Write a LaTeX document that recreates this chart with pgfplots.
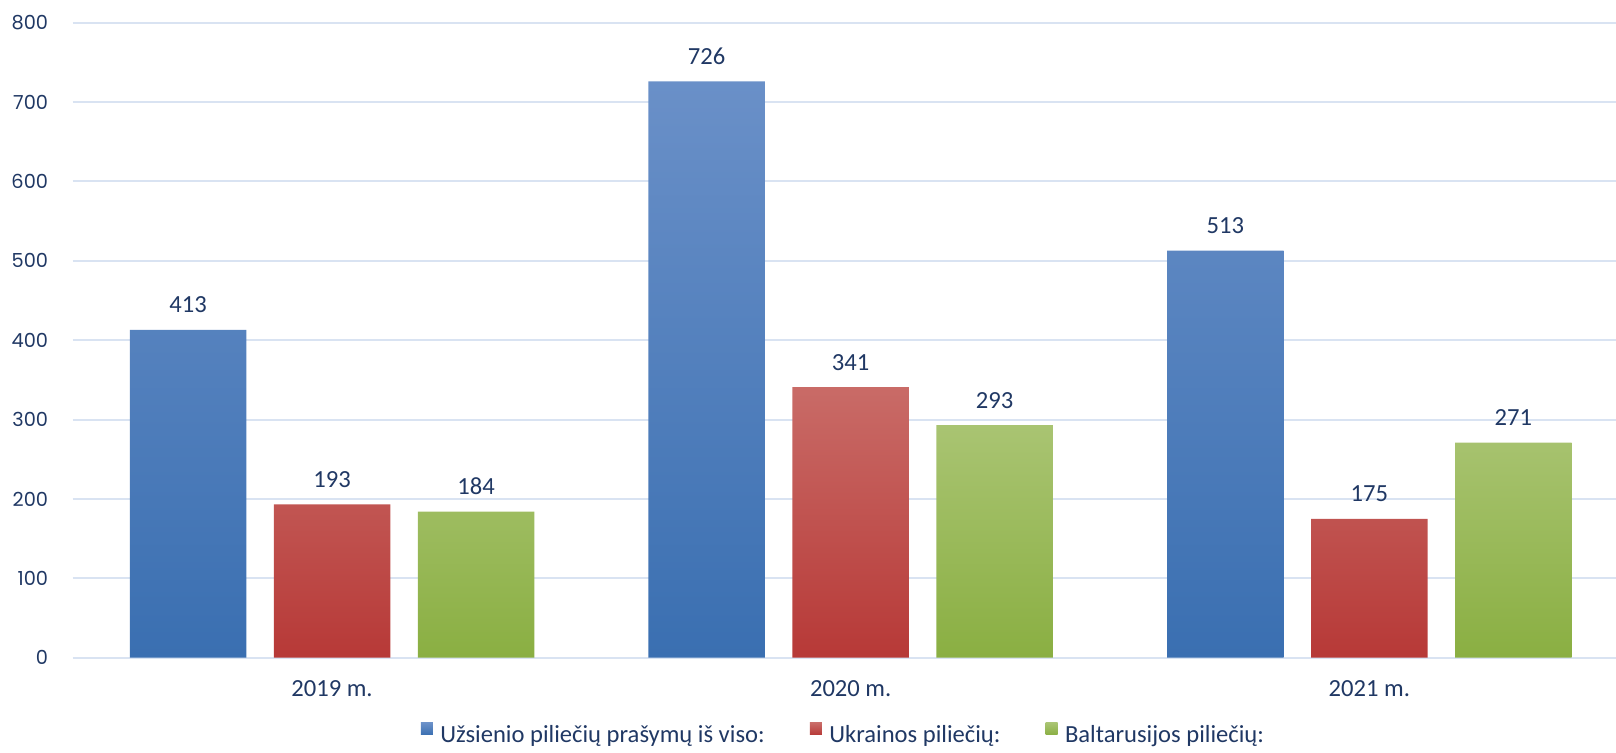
\documentclass[border=0pt]{standalone}
\usepackage{pgfplots}
\pgfplotsset{compat=1.18}
\usepackage{fontspec}
\setmainfont{Carlito}
\newfontfamily\tickfont{Poppins}
\definecolor{txt}{HTML}{203864}
\definecolor{gridc}{HTML}{D9E3F2}
\definecolor{blueT}{HTML}{6A90C8}
\definecolor{blueB}{HTML}{3A6FB1}
\definecolor{redT}{HTML}{C96B67}
\definecolor{redB}{HTML}{B73937}
\definecolor{greenT}{HTML}{A9C472}
\definecolor{greenB}{HTML}{8AAF42}
\begin{document}
\begin{tikzpicture}
\useasboundingbox (-14.54mm,-18.9mm) rectangle (308.66mm,131.54mm);
\clip (-14.54mm,-18.9mm) rectangle (308.66mm,131.54mm);
\begin{axis}[
    width=308.6mm, height=127mm, scale only axis,
    ymin=0, ymax=800, ytick={0,100,...,800},
    xmin=-0.5, xmax=2.475,
    xtick={0,1,2}, xticklabels={2019 m., 2020 m., 2021 m.},
    ymajorgrids, grid style={gridc, line width=1.1pt},
    axis line style={draw=none}, major tick length=0pt,
    ybar=5.5mm, bar width=23.3mm,
    /pgf/number format/assume math mode=true,
    yticklabel style={font=\tickfont\fontsize{11}{11}\selectfont, text=txt, anchor=east, inner sep=0pt, xshift=-4.86mm},
    xticklabel style={font=\fontsize{14}{14}\selectfont, text=txt, anchor=north, inner sep=0pt, yshift=-4.55mm},
    nodes near coords,
    every node near coord/.append style={font=\fontsize{14}{14}\selectfont, text=txt, inner sep=0pt, anchor=south, yshift=3.3mm},
    legend columns=-1,
    legend image code/.code={\path[#1,draw=none] (0mm,0mm) rectangle (2.4mm,2.4mm);
        \path (0mm,0mm) -- (3.2mm,0mm);},
    legend style={draw=none, fill=none, at={(0.5,0)}, anchor=north, yshift=-12mm,
        font=\fontsize{14}{14}\selectfont, text=txt,
        /tikz/every even column/.append style={column sep=8.3mm}},
]
\addplot[draw=none, top color=blueT, bottom color=blueB] coordinates {(0,413) (1,726) (2,513)};
\addplot[draw=none, top color=redT, bottom color=redB] coordinates {(0,193) (1,341) (2,175)};
\addplot[draw=none, top color=greenT, bottom color=greenB] coordinates {(0,184) (1,293) (2,271)};
\legend{Užsienio piliečių prašymų iš viso:, Ukrainos piliečių:, Baltarusijos piliečių:}
\end{axis}
\end{tikzpicture}
\end{document}
